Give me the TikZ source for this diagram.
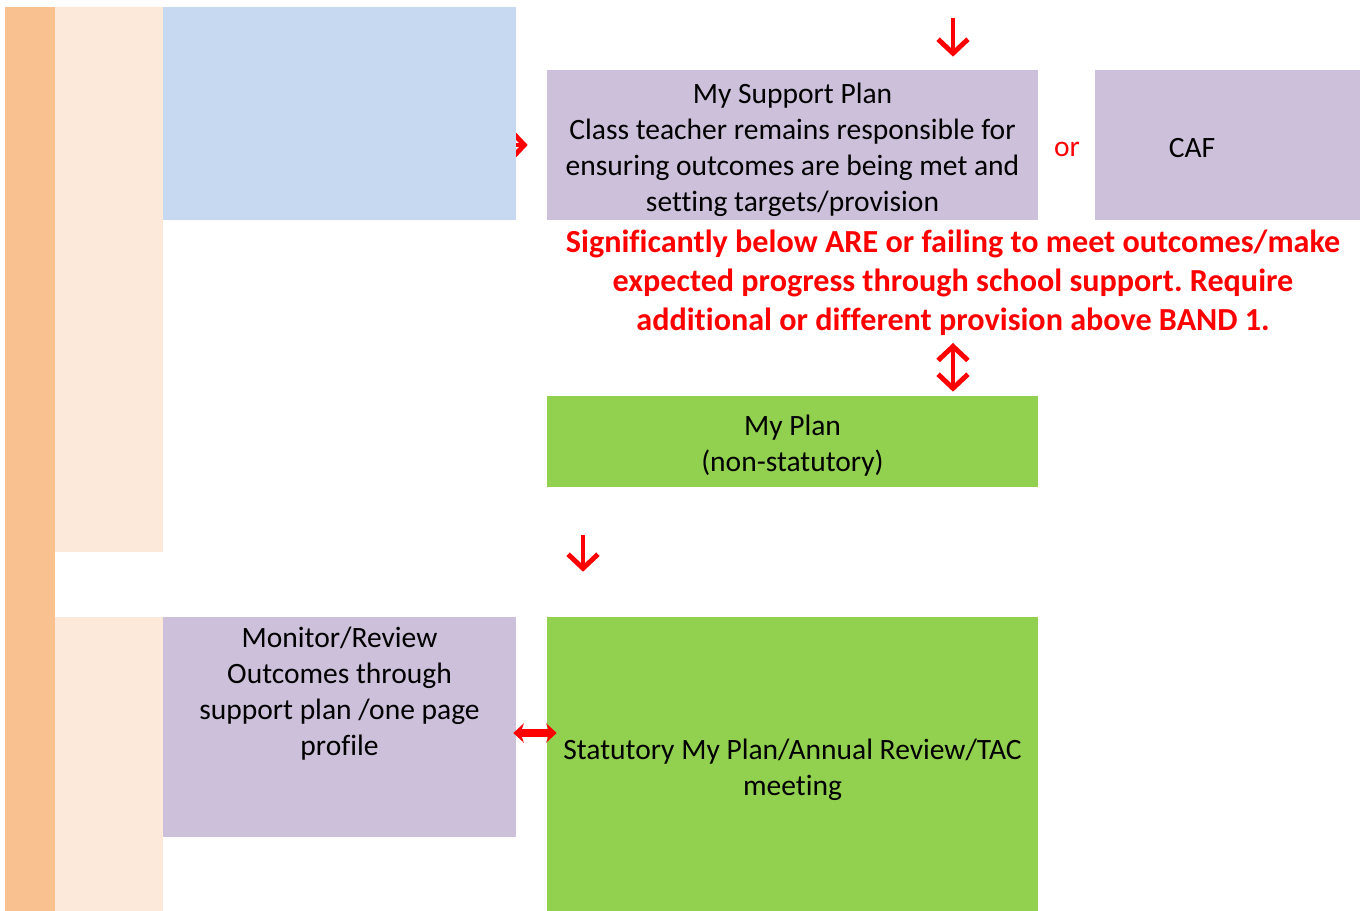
\documentclass[tikz,border=0pt]{standalone}
\usepackage{fontspec}
\setmainfont[Ligatures={NoCommon}]{Carlito}
\usetikzlibrary{positioning}
\usetikzlibrary{arrows.meta}
\definecolor{barColor}{HTML}{F9C18F}
\definecolor{peachColor}{HTML}{FDE9DA}
\definecolor{blueColor}{HTML}{C6D9F1}
\definecolor{purpleColor}{HTML}{CCC0DA}
\definecolor{greenColor}{HTML}{92D050}
\definecolor{alertColor}{HTML}{FF0000}
\pgfdeclarelayer{behind}
\pgfsetlayers{behind,main}
\frenchspacing

\tikzset{
  box/.style={fill=#1, inner sep=0pt},
  txt/.style={align=center, inner sep=0pt, font=\fontsize{16.8}{20.5}\selectfont},
  redarrow/.style={draw=alertColor, line width=2.8pt, line join=round,
    -{Straight Barb[length=8pt,width=17pt]}},
  redboth/.style={draw=alertColor, line width=2.8pt, line join=round,
    {Straight Barb[length=8pt,width=17pt]}-{Straight Barb[length=8pt,width=17pt]}},
  fatboth/.style={draw=alertColor, line width=4pt,
    {Stealth[length=6pt,width=11pt]}-{Stealth[length=6pt,width=11pt]}}
}

\begin{document}
\begin{tikzpicture}[x=0.02cm, y=-0.02cm]
  \useasboundingbox (0,0) rectangle (1368,911);
  % side bars
  \node[box=barColor, minimum width=1cm, minimum height=18.08cm] (bar) at (30,459) {};
  \node[box=peachColor, minimum width=2.16cm, minimum height=10.9cm] (peachtop) at (109,279.5) {};
  \node[box=peachColor, minimum width=2.16cm, minimum height=5.88cm] (peachlow) at (109,764) {};
  % boxes
  \node[box=blueColor, minimum width=7.06cm, minimum height=4.26cm] (blue) at (339.5,113.5) {};
  \node[box=purpleColor, minimum width=9.82cm, minimum height=3cm] (support) at (792.5,145) {};
  \node[txt] (supporttext) at (792.5,149.5)
    {My Support Plan\\Class teacher remains responsible for\\ensuring outcomes are being met and\\setting targets/provision};
  \node[box=purpleColor, minimum width=5.3cm, minimum height=3cm] (caf) at (1227.5,145) {};
  \node[txt] (caftext) at (1192,148) {CAF};
  \node[txt, text=alertColor] (or) at (1067,149) {or};
  \node[text=alertColor, align=center, inner sep=0pt, font=\fontsize{18.3}{22.2}\selectfont\bfseries] (below) at (953,282.5)
    {Significantly below ARE or failing to meet outcomes/make\\expected progress through school support. Require\\additional or different provision above BAND 1.};
  \node[box=greenColor, minimum width=9.82cm, minimum height=1.82cm] (myplan) at (792.5,441.5) {};
  \node[txt] (myplantext) at (792.5,446) {My Plan\\(non-statutory)};
  \node[box=purpleColor, minimum width=7.06cm, minimum height=4.4cm] (monitor) at (339.5,727) {};
  \node[txt, anchor=north] (monitortext) at (339.5,627)
    {Monitor/Review\\Outcomes through\\support plan /one page\\profile};
  \node[box=greenColor, minimum width=9.82cm, minimum height=5.88cm] (statutory) at (792.5,764) {};
  \node[txt] (statext) at (792.5,769.5)
    {Statutory My Plan/Annual Review/TAC\\meeting};
  % arrows
  \coordinate (topin) at (953,18);
  \draw[redarrow, shorten >=0.26cm] (topin) -- (topin |- support.north);
  \begin{pgfonlayer}{behind}
    \draw[redarrow, shorten >=0.38cm] (blue.center |- support.west) -- (support.west);
  \end{pgfonlayer}
  \coordinate (dtop) at (953,343);
  \draw[redboth, shorten >=0.08cm] (dtop) -- (dtop |- myplan.north);
  \coordinate (midin) at (583,535);
  \draw[redarrow, shorten >=0.9cm] (midin) -- (midin |- statutory.north);
  \coordinate (hrow) at (0,733);
  \draw[fatboth, shorten <=-0.06cm, shorten >=-0.2cm] (monitor.east |- hrow) -- (statutory.west |- hrow);
\end{tikzpicture}
\end{document}
